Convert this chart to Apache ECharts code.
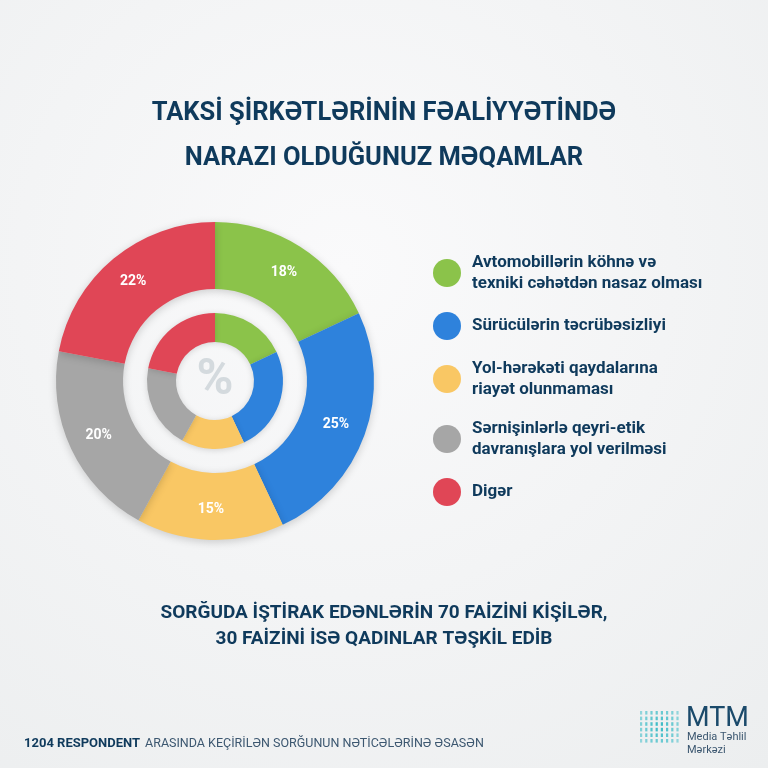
<!DOCTYPE html>
<html>
<head>
<meta charset="utf-8">
<script src="https://cdn.jsdelivr.net/npm/echarts@6/dist/echarts.min.js"></script>
<style>
html,body{margin:0;padding:0;width:768px;height:768px;overflow:hidden;}
#chart{width:768px;height:768px;}
</style>
</head>
<body>
<div id="chart"></div>
<script>
const categories = [
  'Avtomobillərin köhnə və\ntexniki cəhətdən nasaz olması',
  'Sürücülərin təcrübəsizliyi',
  'Yol-hərəkəti qaydalarına\nriayət olunmaması',
  'Sərnişinlərlə qeyri-etik\ndavranışlara yol verilməsi',
  'Digər'
];
const values = [18, 25, 15, 20, 22];
const colors = ['#8bc34a', '#2e82dc', '#f9c764', '#a6a6a6', '#e04656'];
const titleText = 'TAKSİ ŞİRKƏTLƏRİNİN FƏALİYYƏTİNDƏ\nNARAZI OLDUĞUNUZ MƏQAMLAR';
const noteText = 'SORĞUDA İŞTİRAK EDƏNLƏRİN 70 FAİZİNİ KİŞİLƏR,\n30 FAİZİNİ İSƏ QADINLAR TƏŞKİL EDİB';
const footerBold = '1204 RESPONDENT';
const footerRest = 'ARASINDA KEÇİRİLƏN SORĞUNUN NƏTİCƏLƏRİNƏ ƏSASƏN';

const navy = '#0f3a5c';
const FONT = 'Roboto, sans-serif';

const pieData = categories.map((n, i) => ({ name: n, value: values[i], itemStyle: { color: colors[i] } }));

// logo dashes
const logoDashes = [];
for (let r = 0; r < 6; r++) {
  for (let c = 0; c < 8; c++) {
    const dx = c - 3.5, dy = r - 2.5;
    const d = Math.sqrt(dx * dx + dy * dy);
    logoDashes.push({
      type: 'rect',
      shape: { x: 640 + c * 5.2, y: 711 + r * 5.6, width: 2.2, height: 3.6 },
      style: { fill: '#2fb8c4', opacity: Math.max(0.35, 1 - d * 0.12) }
    });
  }
}

const chart = echarts.init(document.getElementById('chart'));
chart.setOption({
  backgroundColor: {
    type: 'radial', x: 0.45, y: 0.35, r: 0.85,
    colorStops: [{ offset: 0, color: '#fafafb' }, { offset: 1, color: '#eceeef' }]
  },
  title: [
    {
      text: titleText, left: 'center', top: 86,
      textStyle: { fontFamily: FONT, fontSize: 25.5, fontWeight: 'bold', color: navy, lineHeight: 45, align: 'center' }
    },
    {
      text: noteText, left: 'center', top: 595,
      textStyle: { fontFamily: FONT, fontSize: 19, fontWeight: 'bold', color: navy, lineHeight: 26, align: 'center' }
    },
    {
      text: '{b|' + footerBold + '} {n|' + footerRest + '}', left: 19, top: 730,
      textStyle: {
        rich: {
          b: { fontFamily: FONT, fontSize: 13, fontWeight: 'bold', color: navy },
          n: { fontFamily: FONT, fontSize: 12.5, fontWeight: 'normal', color: '#3c5770' }
        }
      }
    }
  ],
  legend: {
    orient: 'vertical', left: 428, top: 247,
    icon: 'circle', itemWidth: 28, itemHeight: 28, itemGap: 18,
    selectedMode: false,
    data: categories,
    textStyle: { fontFamily: FONT, fontSize: 17, fontWeight: 'bold', color: navy, lineHeight: 21, padding: [0, 0, 0, 6] }
  },
  graphic: [
    {
      type: 'text', x: 215, y: 381,
      style: { text: '%', fontFamily: 'Roboto, sans-serif', fontSize: 50, fontWeight: 'bold', fill: '#d4dade', align: 'center', verticalAlign: 'middle' }
    },
    { type: 'group', children: logoDashes },
    {
      type: 'text', x: 686, y: 706,
      style: { text: 'MTM', fontFamily: 'Roboto, sans-serif', fontSize: 27, fontWeight: 'normal', fill: '#1b4a6b' }
    },
    {
      type: 'text', x: 687, y: 731,
      style: { text: 'Media Təhlil\nMərkəzi', fontFamily: 'Roboto, sans-serif', fontSize: 11, lineHeight: 13, fill: '#3c5770' }
    }
  ],
  series: [
    {
      type: 'pie', name: 'outer', center: [215, 381], radius: [92, 159],
      startAngle: 90, clockwise: true, silent: true, animation: false,
      itemStyle: { shadowBlur: 8, shadowColor: 'rgba(0,0,0,0.18)', shadowOffsetY: 2 },
      label: { show: true, position: 'inside', formatter: '{c}%', color: '#fff', fontFamily: 'Roboto, sans-serif', fontSize: 14, fontWeight: 'bold' },
      labelLine: { show: false },
      data: pieData
    },
    {
      type: 'pie', name: 'inner', center: [215, 381], radius: [39, 68],
      startAngle: 90, clockwise: true, silent: true, animation: false,
      itemStyle: { shadowBlur: 6, shadowColor: 'rgba(0,0,0,0.15)', shadowOffsetY: 1 },
      label: { show: false }, labelLine: { show: false },
      data: pieData
    }
  ]
});
</script>
</body>
</html>
